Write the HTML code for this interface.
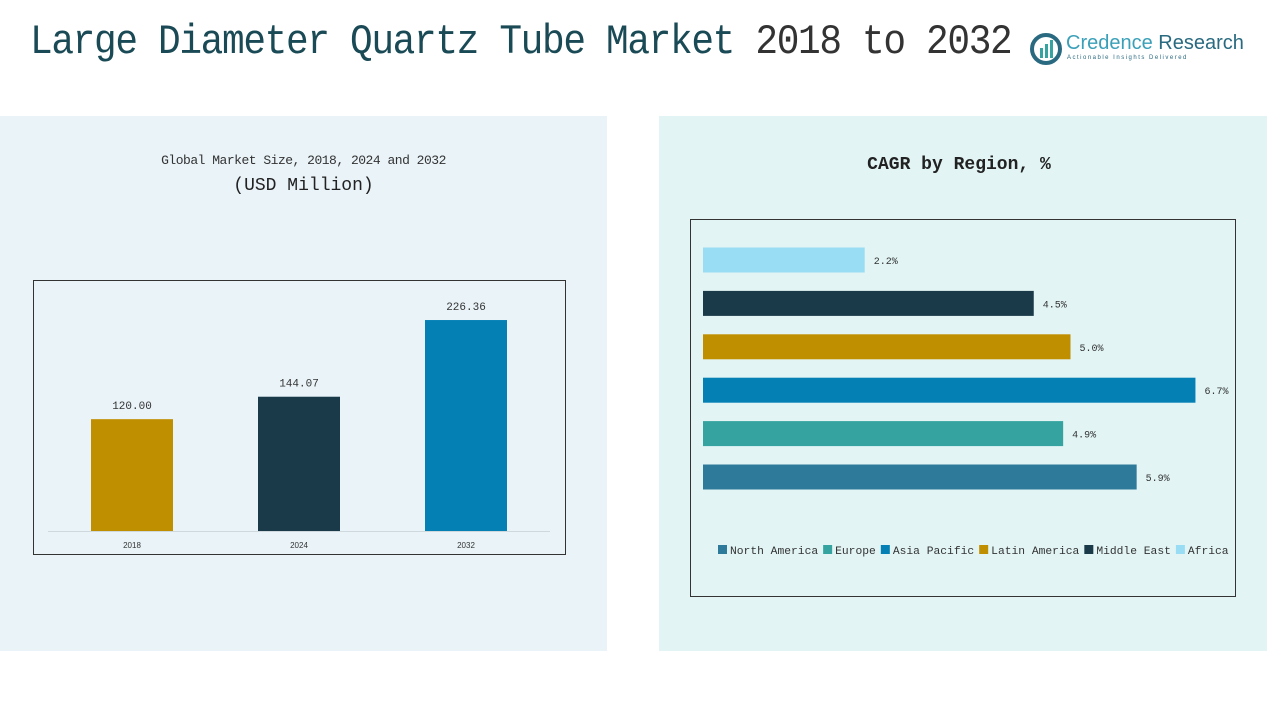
<!DOCTYPE html>
<html><head><meta charset="utf-8"><style>
body{margin:0;width:1267px;height:713px;background:#fff;position:relative;overflow:hidden;font-family:"Liberation Mono","DejaVu Sans Mono",monospace}
.abs{position:absolute}
</style></head><body>
<div class="abs" style="left:30px;top:18px;font-family:'Liberation Mono',monospace;font-size:42px;color:#1a4a55;letter-spacing:-1.5px;white-space:nowrap;transform:scaleX(0.9);transform-origin:left top">Large Diameter Quartz Tube Market <span style="color:#333">2018 to 2032</span></div>
<div class="abs" style="left:1030px;top:32px;width:210px;height:34px">
<svg width="34" height="34"><circle cx="16" cy="17" r="14" fill="none" stroke="#2a6a80" stroke-width="4"/><rect x="10" y="16" width="3" height="10" fill="#35a4a0"/><rect x="15" y="12" width="3" height="14" fill="#35a4a0"/><rect x="20" y="8" width="3" height="18" fill="#35a4a0"/></svg>
<div class="abs" style="left:36px;top:0;font-family:'Liberation Sans',sans-serif;font-size:20px;color:#3aa0b8;white-space:nowrap">Credence <span style="color:#2a6a80">Research</span></div>
<div class="abs" style="left:37px;top:23px;font-family:'Liberation Sans',sans-serif;font-size:6px;letter-spacing:1.5px;color:#2a6a80;white-space:nowrap">Actionable Insights Delivered</div>
</div>
<div class="abs" style="left:0;top:116px;width:607px;height:535px;background:#e9f3f8"></div>
<div class="abs" style="left:659px;top:116px;width:608px;height:535px;background:#e2f4f4"></div>
<div class="abs" style="left:0;top:153px;width:607px;text-align:center;font-size:13px;color:#333;font-family:'Liberation Mono',monospace;letter-spacing:-0.5px">Global Market Size, 2018, 2024 and 2032</div>
<div class="abs" style="left:0;top:176px;width:607px;text-align:center;font-size:18px;color:#222;font-family:'Liberation Mono',monospace">(USD Million)</div>
<div class="abs" style="left:659px;top:155px;width:600px;text-align:center;font-size:18px;color:#222;font-weight:bold;font-family:'Liberation Mono',monospace">CAGR by Region, %</div>
<svg class="abs" style="left:0;top:0" width="1267" height="713" id="charts"></svg>
<script>
const years=["2018","2024","2032"];
const sizes=[120.00,144.07,226.36];
const regions=["North America","Europe","Asia Pacific","Latin America","Middle East","Africa"];
const cagr=[5.9,4.9,6.7,5.0,4.5,2.2];
const colors=["#2e7a9a","#35a4a0","#0580b5","#c08f00","#1a3a4a","#99ddf5"];
const barColors=["#c08f00","#1a3a4a","#0580b5"];
const NS="http://www.w3.org/2000/svg";
const svg=document.getElementById('charts');
function mk(t,a,p){const e=document.createElementNS(NS,t);for(const k in a)e.setAttribute(k,a[k]);(p||svg).appendChild(e);return e;}
let r=mk('rect',{x:33.5,y:280.5,width:532,height:274,fill:'none',stroke:'#333','stroke-width':1});


mk('line',{x1:48,x2:550,y1:531.5,y2:531.5,stroke:'#cfd8dc'});
const base=531, ys=v=>base-v*0.932, xc=i=>132+i*167;
years.forEach((y,i)=>{
 const b=mk('rect',{x:xc(i)-41,y:ys(sizes[i]),width:82,height:base-ys(sizes[i]),fill:barColors[i]});
 
 
 const t=mk('text',{x:xc(i),y:ys(sizes[i])-10,'text-anchor':'middle','font-size':11,fill:'#333','font-family':'Liberation Mono,monospace'});t.textContent=sizes[i].toFixed(2);
 
 
 const l=mk('text',{x:xc(i),y:548,'text-anchor':'middle','font-size':8,fill:'#333','font-family':'Liberation Sans,sans-serif'});l.textContent=y;
 
 
});
r=mk('rect',{x:690.5,y:219.5,width:545,height:377,fill:'none',stroke:'#333','stroke-width':1});


const x0=703, xs=v=>v*73.5, yc=i=>477-i*43.4;
regions.forEach((n,i)=>{
 const b=mk('rect',{x:x0,y:yc(i)-12.5,width:xs(cagr[i]),height:25,fill:colors[i]});
 
 
 const t=mk('text',{x:x0+xs(cagr[i])+9,y:yc(i)+4,'font-size':10,fill:'#333','font-family':'Liberation Mono,monospace'});t.textContent=cagr[i].toFixed(1)+'%';
 
 
});
let lx=718;
regions.forEach((n,i)=>{
 const g=mk('g',{});
 
 
 mk('rect',{x:lx,y:545,width:9,height:9,fill:colors[i]},g);
 const t=mk('text',{x:lx+12,y:554,'font-size':11.3,fill:'#333','font-family':'Liberation Mono,monospace'},g);t.textContent=n;
 lx+=12+n.length*6.78+5;
});
</script>
</body></html>
